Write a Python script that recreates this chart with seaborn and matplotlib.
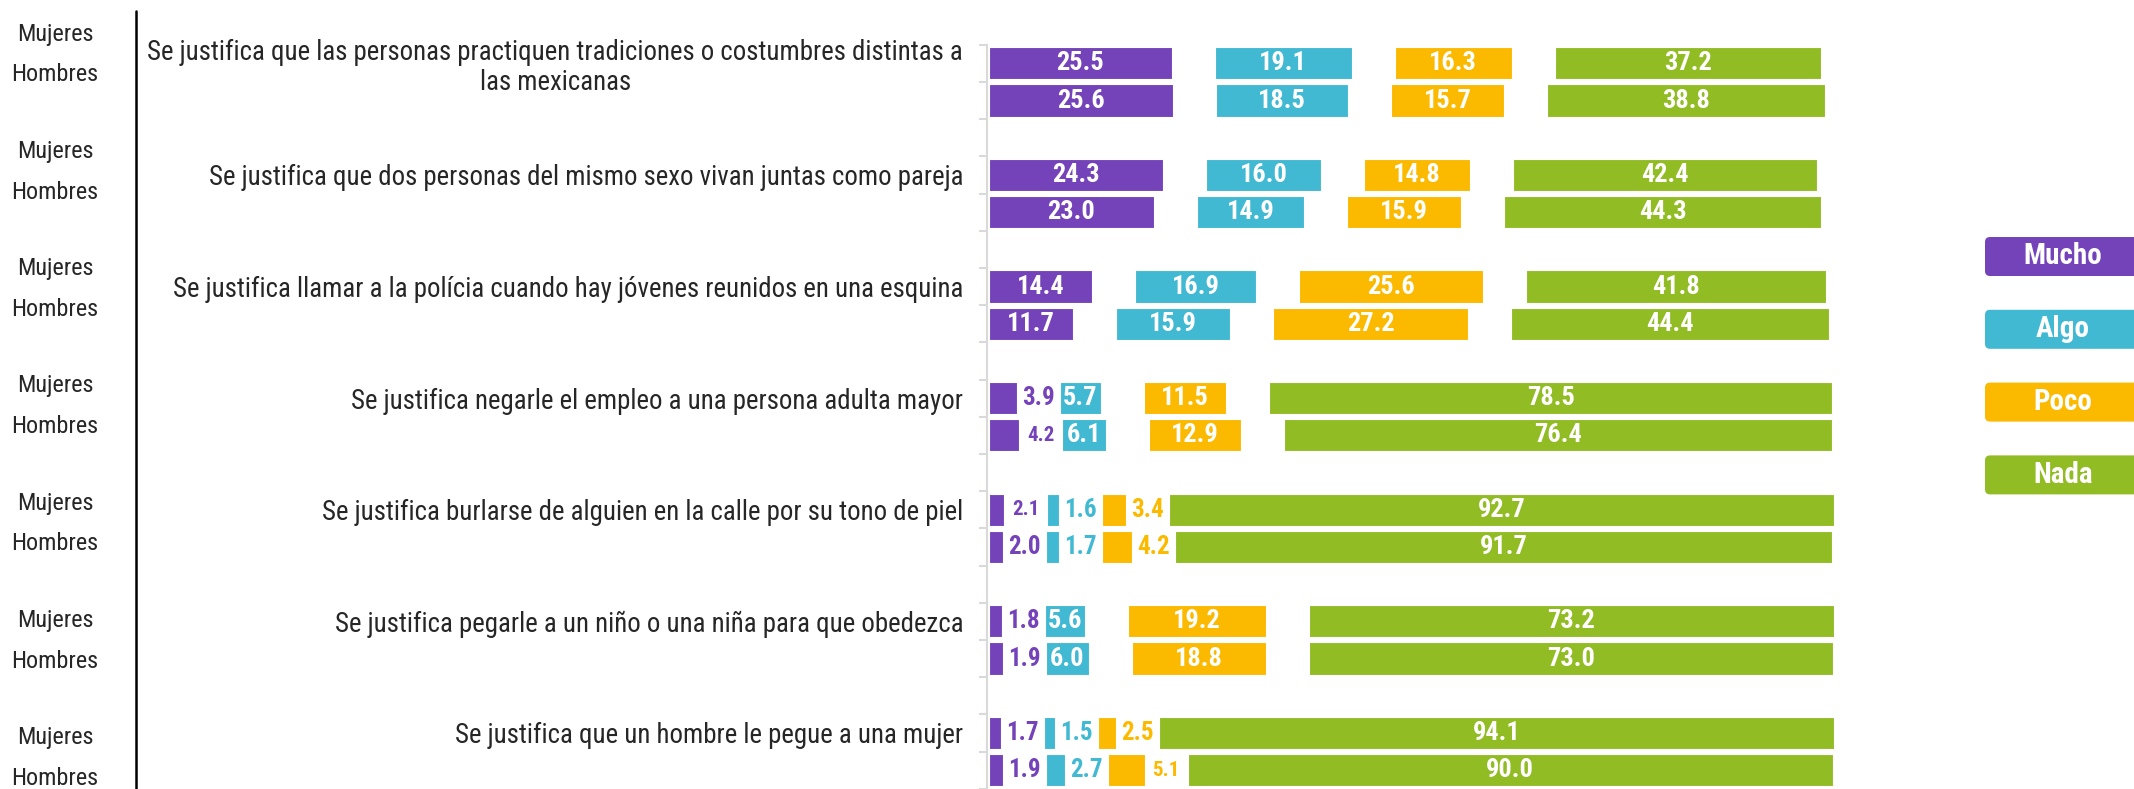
import matplotlib
matplotlib.use("Agg")
import matplotlib.pyplot as plt
import seaborn as sns
import numpy as np
from matplotlib import font_manager as fm
from matplotlib.patches import FancyBboxPatch
from matplotlib.lines import Line2D
from matplotlib.transforms import IdentityTransform

# ---------------- data ----------------
questions = [
    "Se justifica que las personas practiquen tradiciones o costumbres distintas a\nlas mexicanas",
    "Se justifica que dos personas del mismo sexo vivan juntas como pareja",
    "Se justifica llamar a la polícia cuando hay jóvenes reunidos en una esquina",
    "Se justifica negarle el empleo a una persona adulta mayor",
    "Se justifica burlarse de alguien en la calle por su tono de piel",
    "Se justifica pegarle a un niño o una niña para que obedezca",
    "Se justifica que un hombre le pegue a una mujer",
]
categories = ["Mucho", "Algo", "Poco", "Nada"]
groups = ["Mujeres", "Hombres"]

mujeres_mucho = [25.5, 24.3, 14.4, 3.9, 2.1, 1.8, 1.7]
mujeres_algo = [19.1, 16.0, 16.9, 5.7, 1.6, 5.6, 1.5]
mujeres_poco = [16.3, 14.8, 25.6, 11.5, 3.4, 19.2, 2.5]
mujeres_nada = [37.2, 42.4, 41.8, 78.5, 92.7, 73.2, 94.1]

hombres_mucho = [25.6, 23.0, 11.7, 4.2, 2.0, 1.9, 1.9]
hombres_algo = [18.5, 14.9, 15.9, 6.1, 1.7, 6.0, 2.7]
hombres_poco = [15.7, 15.9, 27.2, 12.9, 4.2, 18.8, 5.1]
hombres_nada = [38.8, 44.3, 44.4, 76.4, 91.7, 73.0, 90.0]

colors = ["#7442B9", "#41B9D3", "#FBB900", "#92BC24"]
# (group, question index, category index) of outside labels drawn smaller
small_labels = {("Mujeres", 4, 0), ("Hombres", 3, 0), ("Hombres", 6, 2)}

# ---------------- style ----------------
sns.set_style("white")
avail = {f.name for f in fm.fontManager.ttflist}
font = "Liberation Sans"
for cand in ["Liberation Sans Narrow", "Arial Narrow", "Roboto Condensed",
             "Open Sans Condensed", "DejaVu Sans Condensed"]:
    if cand in avail:
        font = cand
        break
plt.rcParams["font.family"] = [font, "DejaVu Sans"]

W, H = 2134, 789
fig = plt.figure(figsize=(W / 100, H / 100), dpi=100)

GAP = 6.0
PX_PER_UNIT = 7.17
SLOT_PX = 37.2
x0_px = 989
xmin, xmax = -0.3, 120.0
left_px = x0_px + xmin * PX_PER_UNIT
width_px = (xmax - xmin) * PX_PER_UNIT
top_px = 44.7
n_slots = 21
height_px = n_slots * SLOT_PX
ax = fig.add_axes([left_px / W, (H - top_px - height_px) / H, width_px / W, height_px / H])

series = {
    "Mujeres": [mujeres_mucho, mujeres_algo, mujeres_poco, mujeres_nada],
    "Hombres": [hombres_mucho, hombres_algo, hombres_poco, hombres_nada],
}

for gi, g in enumerate(groups):
    vals = np.array(series[g])  # 4 x 7
    for qi in range(len(questions)):
        y = 3 * qi + gi
        left = 0.0
        for ci in range(len(categories)):
            v = vals[ci, qi]
            ax.barh(y, v, left=left, height=0.87, color=colors[ci],
                    edgecolor="white", linewidth=0.8)
            if v >= 5.5:
                ax.text(left + v / 2, y, f"{v:.1f}", ha="center", va="center",
                        color="white", fontsize=19, fontweight="bold")
            else:
                fs = 15 if (g, qi, ci) in small_labels else 18
                ax.text(left + v + GAP / 2, y, f"{v:.1f}", ha="center", va="center",
                        color=colors[ci], fontsize=fs, fontweight="bold")
            left += v + GAP

ax.set_xlim(xmin, xmax)
ax.set_ylim(n_slots - 0.5, -0.5)
ax.set_xticks([])
for s in ["top", "right", "bottom"]:
    ax.spines[s].set_visible(False)
ax.spines["left"].set_color("#d9d9d9")
ax.spines["left"].set_linewidth(1.5)

ax.set_yticks(np.arange(-0.5, n_slots, 1.0))
ax.set_yticklabels([])
ax.tick_params(axis="y", which="major", length=6, width=1.5, color="#d9d9d9", left=True)
ax.set_yticks([3 * i for i in range(len(questions))], labels=questions, minor=True)
ax.tick_params(axis="y", which="minor", length=0, pad=17, labelsize=19.4)
for t in ax.get_yticklabels(minor=True):
    t.set_multialignment("center")
    t.set_linespacing(1.15)

# left labels Mujeres / Hombres
for i in range(len(questions)):
    yt = 34 + 117.3 * i
    fig.text(55 / W, 1 - yt / H, groups[0], ha="center", va="center", fontsize=17.5)
    fig.text(55 / W, 1 - (yt + 40.8) / H, groups[1], ha="center", va="center", fontsize=17.5)

# black vertical separator
fig.add_artist(Line2D([136 / W, 136 / W], [1 - 11 / H, 0], color="black", lw=1.8,
                      transform=fig.transFigure))

# legend boxes
for i, (cat, col) in enumerate(zip(categories, colors)):
    cy = 256.5 + 72.8 * i
    box = FancyBboxPatch((1985, H - cy - 19.5), 160, 39,
                         boxstyle="round,pad=0,rounding_size=5",
                         facecolor=col, edgecolor="none", transform=IdentityTransform())
    fig.add_artist(box)
    fig.text(2063 / W, 1 - cy / H, cat, ha="center", va="center", color="white",
             fontsize=21, fontweight="bold")

fig.savefig("out.png", dpi=100)
